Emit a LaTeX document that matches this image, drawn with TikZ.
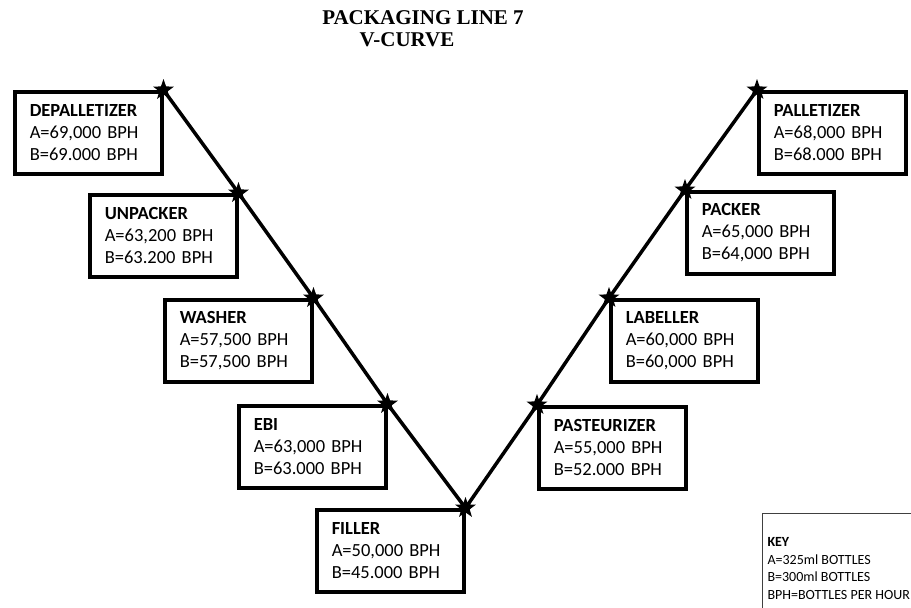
\documentclass[tikz,border=0pt]{standalone}
\usepackage{fontspec}
\setmainfont{Carlito}
\newfontfamily\vtitlefont{Liberation Serif}
\usetikzlibrary{shapes.geometric,positioning}
\tikzset{
  vstage/.style={
    draw=black,
    line width=3.5pt,
    anchor=north west,
    minimum width=147pt,
    minimum height=82pt,
    text width=117pt,
    inner xsep=15pt,
    align=left,
    font=\fontsize{18.5}{22}\selectfont
  },
  vkey/.style={
    draw=black!75,
    line width=1pt,
    anchor=north west,
    minimum width=146pt,
    inner xsep=5pt,
    inner ysep=13pt,
    align=left,
    font=\fontsize{14}{17.5}\selectfont
  },
  vline/.style={line width=3.5pt,line cap=round},
  vstar/.style={star,star points=5,star point ratio=2.5,fill=black,
    inner sep=0pt,minimum size=22pt}
}

\begin{document}
\begin{tikzpicture}[x=1pt,y=-1pt]
    \useasboundingbox (0,0) rectangle (911,608);
    % title
    \node[font=\vtitlefont\bfseries\fontsize{21}{22}\selectfont] (title) at (423,18) {PACKAGING LINE 7};
    \node[font=\vtitlefont\bfseries\fontsize{21}{22}\selectfont] (subtitle) at (407,40) {V-CURVE};
    % falling side
    \node[vstage] (depal) at (13,90) {\textbf{DEPALLETIZER}\\A=69,000 BPH\\B=69.000 BPH};
    \node[vstage] (unpack) at (88,193) {\textbf{UNPACKER}\\A=63,200 BPH\\B=63.200 BPH};
    \node[vstage] (washer) at (163,298) {\textbf{WASHER}\\A=57,500 BPH\\B=57,500 BPH};
    \node[vstage] (ebi) at (237,404) {\textbf{EBI}\\A=63,000 BPH\\B=63.000 BPH};
    \node[vstage] (filler) at (315,508) {\textbf{FILLER}\\A=50,000 BPH\\B=45.000 BPH};
    % rising side
    \node[vstage] (pasteur) at (537,405) {\textbf{PASTEURIZER}\\A=55,000 BPH\\B=52.000 BPH};
    \node[vstage] (label) at (609,298) {\textbf{LABELLER}\\A=60,000 BPH\\B=60,000 BPH};
    \node[vstage] (packer) at (685,190) {\textbf{PACKER}\\A=65,000 BPH\\B=64,000 BPH};
    \node[vstage] (pallet) at (757,90) {\textbf{PALLETIZER}\\A=68,000 BPH\\B=68.000 BPH};
    % key
    \node[vkey,minimum height=110pt] (key) at (762,513) {\textbf{KEY}\\A=325ml BOTTLES\\B=300ml BOTTLES\\BPH=BOTTLES PER HOUR};
    % the V
    \draw[vline] (depal.north east) -- (unpack.north east) -- (washer.north east)
      -- (ebi.north east) -- (filler.north east) -- (pasteur.north west)
      -- (label.north west) -- (packer.north west) -- (pallet.north west);
    \node[vstar] (s1) at (depal.north east) {};
    \node[vstar] (s2) at (unpack.north east) {};
    \node[vstar] (s3) at (washer.north east) {};
    \node[vstar] (s4) at (ebi.north east) {};
    \node[vstar] (s5) at (filler.north east) {};
    \node[vstar] (s6) at (pasteur.north west) {};
    \node[vstar] (s7) at (label.north west) {};
    \node[vstar] (s8) at (packer.north west) {};
    \node[vstar] (s9) at (pallet.north west) {};
\end{tikzpicture}
\end{document}
